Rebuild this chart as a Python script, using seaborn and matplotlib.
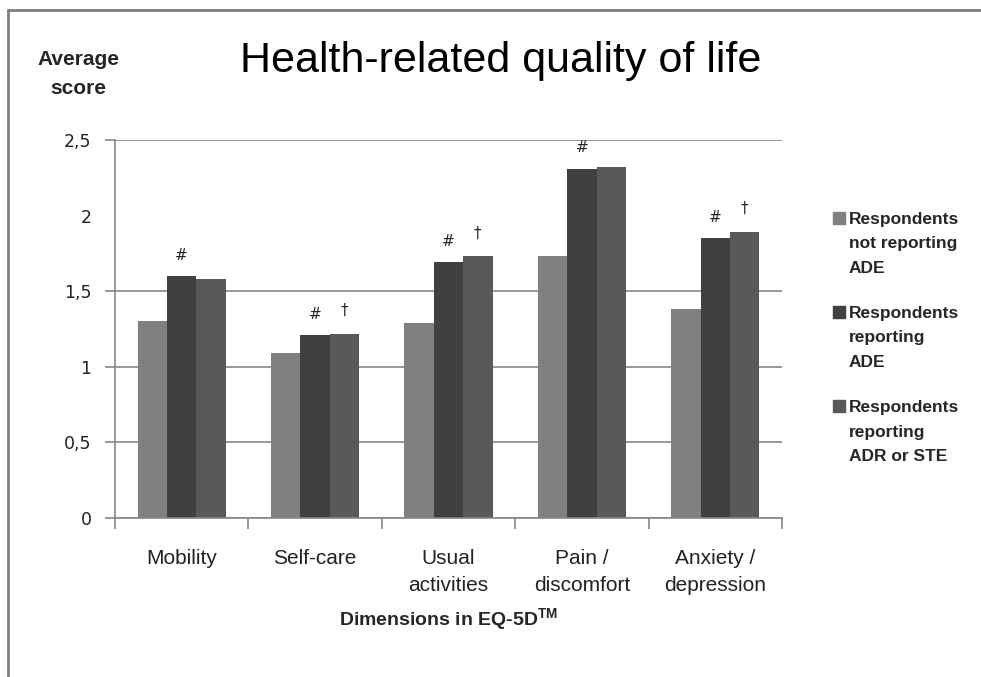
import matplotlib
matplotlib.use("Agg")
import matplotlib.pyplot as plt
from matplotlib.lines import Line2D
from matplotlib.patches import Rectangle
from matplotlib.legend_handler import HandlerPatch
import seaborn as sns
import pandas as pd
import numpy as np

dimensions = ["Mobility", "Self-care", "Usual\nactivities", "Pain /\ndiscomfort", "Anxiety /\ndepression"]
groups = ["Respondents\nnot reporting\nADE", "Respondents\nreporting\nADE", "Respondents\nreporting\nADR or STE"]
not_reporting_ade = [1.30, 1.09, 1.29, 1.73, 1.38]
reporting_ade = [1.60, 1.21, 1.69, 2.31, 1.85]
reporting_adr_ste = [1.58, 1.22, 1.73, 2.32, 1.89]
ade_marks = ["#", "#", "#", "#", "#"]
adr_marks = ["", "\u2020", "\u2020", "", "\u2020"]
# the original has gridlines/ticks at these levels only, "2" is labelled without one
grid_ticks = [0, 0.5, 1, 1.5, 2.5]
grid_labels = ["0", "0,5", "1", "1,5", "2,5"]
bare_ticks = [2]
bare_labels = ["2"]

df = pd.DataFrame({
    "dimension": dimensions * 3,
    "group": np.repeat(groups, len(dimensions)),
    "score": not_reporting_ade + reporting_ade + reporting_adr_ste,
})

sns.set_style("white")
plt.rcParams["font.family"] = ["Liberation Sans", "DejaVu Sans"]
plt.rcParams["mathtext.fontset"] = "custom"
plt.rcParams["mathtext.rm"] = "Liberation Sans"
plt.rcParams["mathtext.bf"] = "Liberation Sans:bold"

fig = plt.figure(figsize=(9.81, 6.77), dpi=100)
ax = fig.add_axes([115 / 981, 1 - 518 / 677, 667 / 981, 378 / 677])

palette = ["#808080", "#404040", "#595959"]
sns.barplot(data=df, x="dimension", y="score", hue="group", palette=palette,
            width=0.66, saturation=1, linewidth=0, legend=False, ax=ax)

axcol = "#868686"
ax.set_ylim(0, 2.5)
ax.set_xlim(-0.5, len(dimensions) - 0.5)
ax.set_yticks(grid_ticks)
ax.set_yticklabels(grid_labels, family="DejaVu Sans", fontsize=12.5, color="#222222")
ax.set_yticks(bare_ticks, minor=True)
ax.set_yticklabels(bare_labels, minor=True, family="DejaVu Sans", fontsize=12.5, color="#222222")
ax.yaxis.grid(True, which="major", color=axcol, linewidth=1.2)
ax.yaxis.grid(False, which="minor")
ax.set_axisbelow(True)
ax.tick_params(axis="y", which="major", length=7, width=1.2, color=axcol, direction="out", left=True, pad=10)
ax.tick_params(axis="y", which="minor", length=0, left=True, pad=17)

ax.set_xticks(range(len(dimensions)))
ax.set_xticklabels(dimensions, fontsize=15, color="#222222", linespacing=1.55)
ax.set_xticks(np.arange(-0.5, len(dimensions)), minor=True)
ax.tick_params(axis="x", which="major", length=0, pad=22)
ax.tick_params(axis="x", which="minor", length=8, width=1.2, color=axcol, bottom=True)

for side in ["top", "right"]:
    ax.spines[side].set_visible(False)
for side in ["left", "bottom"]:
    ax.spines[side].set_color(axcol)
    ax.spines[side].set_linewidth(1.2)

ax.set_xlabel(r"Dimensions in EQ-5D$^{\mathbf{TM}}$", fontsize=14, fontweight="bold", labelpad=8)
ax.set_ylabel("")

# significance marks above bars
for cont, marks, dy in [(ax.containers[1], ade_marks, 15), (ax.containers[2], adr_marks, 17)]:
    for bar, m in zip(cont, marks):
        if m:
            ax.annotate(m, (bar.get_x() + bar.get_width() / 2, bar.get_height()),
                        xytext=(0, dy), textcoords="offset points", ha="center", va="center",
                        fontsize=11, family="DejaVu Sans")

fig.text(501 / 981, 1 - 61 / 677, "Health-related quality of life", ha="center", va="center",
         fontsize=31, color="black")
fig.text(78 / 981, 1 - 74 / 677, "Average\nscore", ha="center", va="center", fontsize=15,
         fontweight="bold", linespacing=1.7)


# legend square sits next to the first line of each label
def top_square(legend, orig_handle, xdescent, ydescent, width, height, fontsize):
    return Rectangle((-xdescent, -ydescent + 18.6), width, height)


handles = [Rectangle((0, 0), 1, 1, color=c) for c in palette]
leg = fig.legend(handles, groups, loc="upper left", bbox_to_anchor=(826 / 981, 1 - 205 / 677),
                 frameon=False, fontsize=12.5, handlelength=0.7, handleheight=0.7,
                 handletextpad=0.2, labelspacing=1.75, borderaxespad=0,
                 handler_map={Rectangle: HandlerPatch(patch_func=top_square)})
for t in leg.get_texts():
    t.set_linespacing(1.78)
    t.set_fontweight("bold")

# outer frame of the original figure
fig.add_artist(Line2D([8 / 981, 8 / 981], [0, 1 - 10 / 677], color="#808080", linewidth=2))
fig.add_artist(Line2D([8 / 981, 1], [1 - 10 / 677, 1 - 10 / 677], color="#808080", linewidth=2))

fig.savefig("out.png", dpi=100)
